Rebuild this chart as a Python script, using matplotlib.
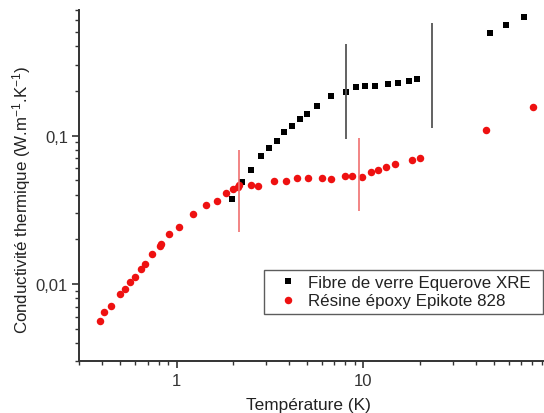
import matplotlib
matplotlib.use("Agg")
import matplotlib.pyplot as plt
from matplotlib.ticker import FixedLocator, NullFormatter, LogLocator

plt.rcParams["font.family"] = ["Liberation Sans", "DejaVu Sans"]
plt.rcParams["mathtext.fontset"] = "custom"
plt.rcParams["mathtext.rm"] = "Liberation Sans"
plt.rcParams["mathtext.it"] = "Liberation Sans"
plt.rcParams["mathtext.default"] = "regular"

# Fibre de verre (black squares)
fibre_T = [1.99, 2.23, 2.50, 2.84, 3.14, 3.46, 3.75, 4.15, 4.58, 4.99, 5.65,
           6.69, 8.02, 9.14, 10.17, 11.55, 13.46, 15.35, 17.51, 19.26,
           47.6, 57.7, 72.6]
fibre_k = [0.0375, 0.0483, 0.0585, 0.0727, 0.0829, 0.0917, 0.1059, 0.1157,
           0.1289, 0.1393, 0.1585, 0.1858, 0.1977, 0.2117, 0.2150, 0.2150,
           0.2228, 0.2273, 0.2334, 0.2408, 0.4911, 0.5585, 0.626]

# Resine epoxy (red circles)
resine_T = [0.387, 0.408, 0.447, 0.495, 0.531, 0.560, 0.598, 0.644, 0.676,
            0.737, 0.811, 0.824, 0.914, 1.029, 1.223, 1.439, 1.648, 1.830,
            2.003, 2.123, 2.158, 2.513, 2.741, 3.318, 3.838, 4.413, 5.079,
            6.007, 6.688, 7.950, 8.70, 9.84, 10.92, 11.90, 13.23, 14.73,
            18.17, 20.13, 45.1, 80.6]
resine_k = [0.0056, 0.00644, 0.00707, 0.00851, 0.0093, 0.01036, 0.01107,
            0.01254, 0.0137, 0.01582, 0.01811, 0.01858, 0.02157, 0.02404,
            0.02959, 0.03428, 0.03619, 0.04072, 0.04331, 0.04495, 0.04608,
            0.04658, 0.04566, 0.04956, 0.04956, 0.05136, 0.05136, 0.0514,
            0.05057, 0.05356, 0.05356, 0.05217, 0.05636, 0.05813, 0.06157,
            0.0638, 0.06789, 0.07046, 0.1097, 0.1553]

# vertical uncertainty bars
bar_black_T = [8.02, 23.35]
bar_black_lo = [0.094, 0.1127]
bar_black_hi = [0.414, 0.5734]
bar_red_T = [2.168, 9.48]
bar_red_lo = [0.0225, 0.0308]
bar_red_hi = [0.0801, 0.0955]

fig = plt.figure(figsize=(5.44, 4.14), dpi=100)
ax = fig.add_axes([0.1452, 0.1244, 0.8662, 0.8488])

ax.plot(fibre_T, fibre_k, "s", color="black", ms=4.6, mew=0,
        label="Fibre de verre Equerove XRE", zorder=2)
ax.plot(resine_T, resine_k, "o", color="#ee1111", ms=5.4, mew=0,
        label="Résine époxy Epikote 828", zorder=2)
ax.vlines(bar_black_T, bar_black_lo, bar_black_hi, color="#555555", lw=1.3, zorder=3)
ax.vlines(bar_red_T, bar_red_lo, bar_red_hi, color="#f07070", lw=1.2, zorder=3)

ax.set_xscale("log")
ax.set_yscale("log")
ax.set_xlim(0.3, 100)
ax.set_ylim(0.003, 0.7)

ax.xaxis.set_major_locator(FixedLocator([1, 10]))
ax.set_xticklabels(["1", "10"])
ax.xaxis.set_minor_locator(LogLocator(base=10, subs=range(2, 10)))
ax.xaxis.set_minor_formatter(NullFormatter())
ax.yaxis.set_major_locator(FixedLocator([0.01, 0.1]))
ax.set_yticklabels(["0,01", "0,1"])
ax.yaxis.set_minor_locator(LogLocator(base=10, subs=range(2, 10)))
ax.yaxis.set_minor_formatter(NullFormatter())

for s in ["top", "right"]:
    ax.spines[s].set_visible(False)
for s in ["left", "bottom"]:
    ax.spines[s].set_color("#333333")
    ax.spines[s].set_linewidth(1.4)
ax.tick_params(which="major", direction="out", length=5, width=1.2,
               color="#333333", labelsize=12, labelcolor="#333333", pad=3)
ax.tick_params(which="minor", direction="out", length=3, width=1.0,
               color="#333333")

ax.set_xlabel("Température (K)", fontsize=12.4, color="#222222")
ax.set_ylabel("Conductivité thermique (W.m$^{-1}$.K$^{-1}$)", fontsize=12.2,
              color="#222222")
ax.xaxis.set_label_coords(0.487, -0.102)
ax.yaxis.set_label_coords(-0.098, 0.462)

leg = ax.legend(loc="upper left", bbox_to_anchor=(0.485, 0.2454, 0.513, 0.1),
                bbox_transform=fig.transFigure, mode="expand", fontsize=12.2,
                frameon=True, fancybox=False, borderaxespad=0, borderpad=0.3,
                labelspacing=0.2, handlelength=2.2, handletextpad=0.1,
                markerscale=1.0)
leg.get_frame().set_edgecolor("#333333")
leg.get_frame().set_linewidth(1.0)
for t in leg.get_texts():
    t.set_color("#222222")

fig.savefig("out.png", dpi=100)
